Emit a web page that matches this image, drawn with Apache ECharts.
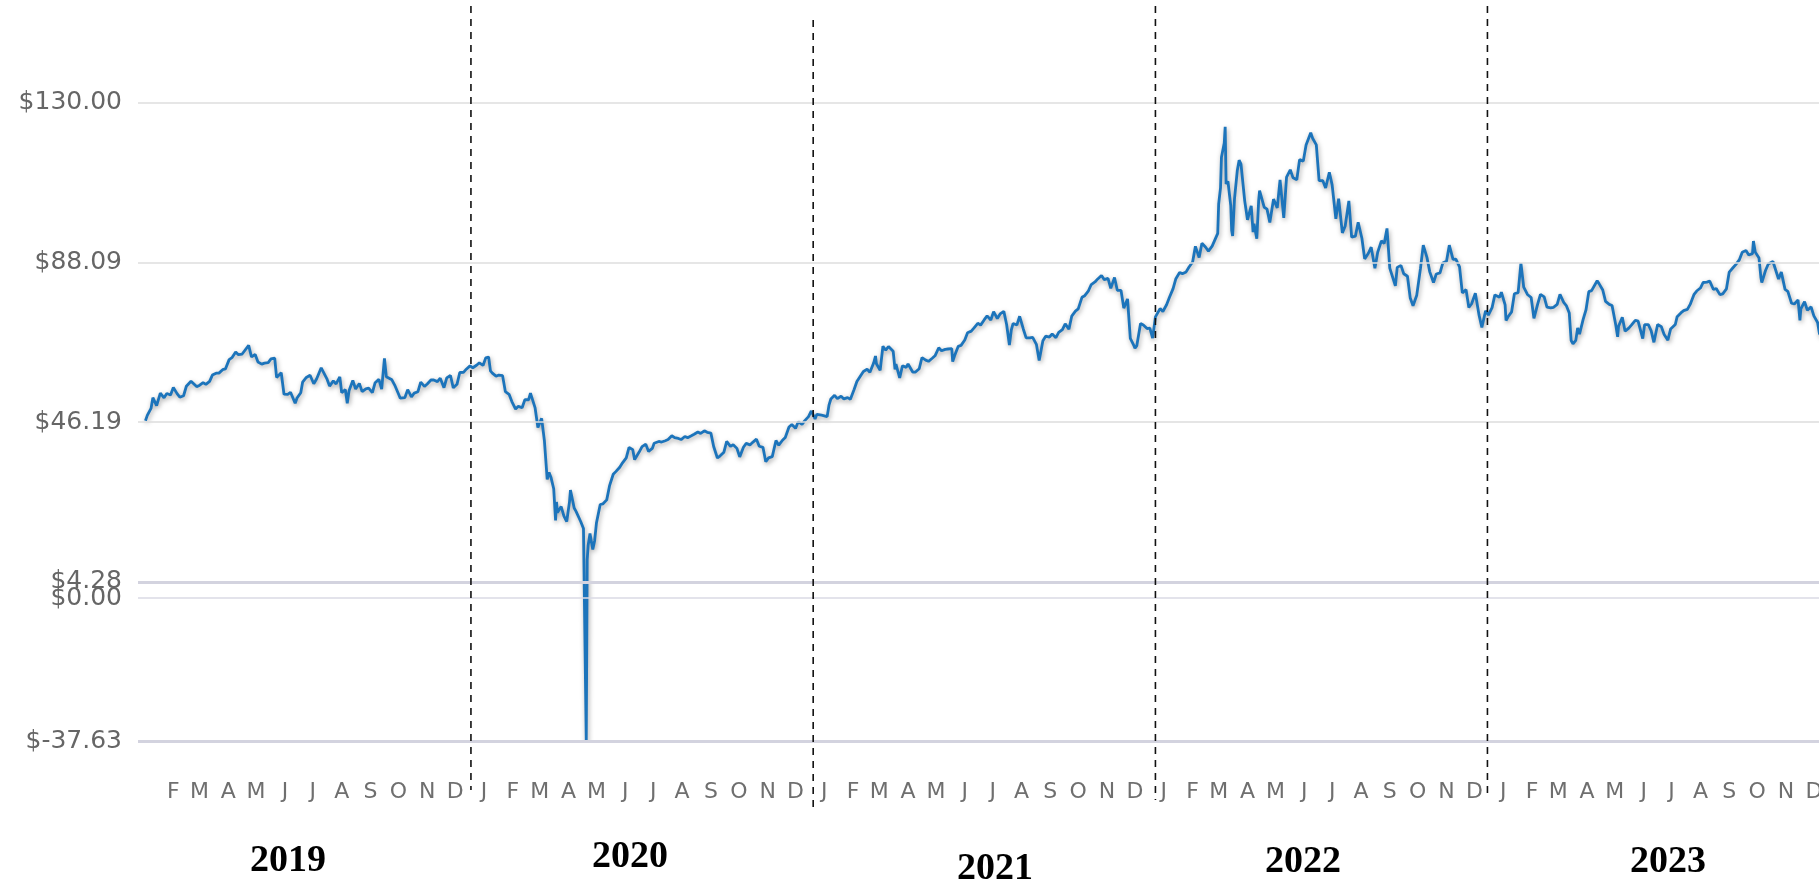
<!DOCTYPE html>
<html>
<head>
<meta charset="utf-8">
<script src="https://cdn.jsdelivr.net/npm/echarts@6/dist/echarts.min.js"></script>
<style>
html,body{margin:0;padding:0;background:#ffffff;}
#chart{width:1819px;height:884px;}
</style>
</head>
<body>
<div id="chart"></div>
<script>
// WTI crude oil daily price (USD/bbl): [MM-DD, price]
const wti2019 = [
['01-02',46.54],['01-04',47.96],['01-08',49.78],['01-10',52.59],['01-14',50.51],['01-18',53.80],['01-22',52.57],['01-25',53.69],['01-29',53.31],
['02-01',55.26],['02-05',53.66],['02-08',52.72],['02-12',53.10],['02-15',55.59],['02-20',56.92],['02-22',57.26],['02-26',55.50],
['03-01',55.80],['03-05',56.56],['03-08',56.07],['03-12',56.87],['03-15',58.52],['03-19',59.03],['03-22',59.04],['03-26',59.94],['03-29',60.14],
['04-02',62.58],['04-05',63.08],['04-09',64.61],['04-12',63.89],['04-16',64.05],['04-18',64.00],['04-23',66.30],['04-26',63.30],['04-30',63.91],
['05-03',61.94],['05-07',61.40],['05-10',61.66],['05-14',61.78],['05-17',62.76],['05-21',62.99],['05-23',57.91],['05-28',59.14],['05-31',53.50],
['06-04',53.48],['06-07',54.00],['06-12',51.14],['06-14',52.51],['06-18',53.90],['06-20',56.65],['06-24',57.90],['06-28',58.47],
['07-02',56.25],['07-05',57.51],['07-10',60.43],['07-12',60.21],['07-16',57.62],['07-19',55.63],['07-23',57.00],['07-26',56.20],['07-30',58.05],
['08-01',53.95],['08-05',54.69],['08-07',51.09],['08-09',54.50],['08-13',57.10],['08-16',54.87],['08-20',56.34],['08-23',54.17],['08-27',54.93],['08-30',55.10],
['09-03',53.94],['09-06',56.52],['09-10',57.40],['09-13',54.85],['09-16',62.90],['09-18',58.11],['09-20',58.09],['09-24',57.29],['09-27',55.91],
['10-01',53.62],['10-03',52.45],['10-08',52.63],['10-11',54.70],['10-15',52.81],['10-18',53.78],['10-22',54.16],['10-25',56.66],['10-29',55.54],
['11-01',56.20],['11-05',57.23],['11-08',57.24],['11-12',56.80],['11-15',57.72],['11-19',55.21],['11-22',57.77],['11-26',58.41],['11-29',55.17],
['12-03',56.10],['12-06',59.20],['12-10',59.24],['12-13',60.07],['12-17',60.94],['12-20',60.44],['12-24',61.11],['12-27',61.72],['12-31',61.06]
];
const wti2020 = [
['01-03',63.05],['01-06',63.27],['01-08',59.61],['01-10',59.04],['01-14',58.23],['01-17',58.54],['01-21',58.38],['01-24',54.19],['01-28',53.48],['01-31',51.56],
['02-04',49.61],['02-07',50.32],['02-11',49.94],['02-14',52.05],['02-18',52.05],['02-20',53.78],['02-25',49.90],['02-28',44.76],
['03-03',47.18],['03-06',41.28],['03-09',31.13],['03-11',32.98],['03-13',31.73],['03-16',28.70],['03-18',20.37],['03-19',25.22],['03-20',22.43],['03-24',24.01],['03-27',21.51],['03-30',20.09],
['04-02',25.32],['04-03',28.34],['04-07',23.63],['04-09',22.76],['04-14',20.11],['04-17',18.27],['04-20',-37.63],['04-21',10.01],['04-22',13.78],['04-24',16.94],['04-27',12.78],['04-29',15.06],
['05-01',19.78],['05-05',24.56],['05-08',24.74],['05-12',25.78],['05-15',29.43],['05-19',32.50],['05-22',33.25],['05-26',34.35],['05-29',35.49],
['06-02',36.81],['06-05',39.55],['06-09',38.94],['06-11',36.34],['06-16',38.38],['06-19',39.75],['06-23',40.37],['06-26',38.49],['06-30',39.27],
['07-02',40.65],['07-07',41.10],['07-10',40.95],['07-14',41.30],['07-17',41.60],['07-21',42.60],['07-24',42.10],['07-28',41.90],['07-31',41.60],
['08-04',42.40],['08-07',42.10],['08-11',42.60],['08-14',43.00],['08-18',43.60],['08-21',43.20],['08-25',43.90],['08-28',43.50],
['09-01',43.30],['09-04',39.77],['09-08',36.76],['09-11',37.33],['09-15',38.28],['09-18',41.11],['09-22',39.80],['09-25',40.25],['09-29',39.29],
['10-02',37.05],['10-06',39.57],['10-09',40.60],['10-13',40.20],['10-16',40.88],['10-20',41.70],['10-23',39.85],['10-27',39.57],['10-30',35.79],
['11-02',36.81],['11-06',37.14],['11-10',41.36],['11-13',40.13],['11-17',41.43],['11-20',42.15],['11-24',44.91],['11-27',45.53],
['12-01',44.55],['12-04',46.26],['12-08',45.60],['12-11',46.57],['12-15',47.62],['12-18',49.10],['12-22',47.02],['12-24',48.23],['12-29',48.00],['12-31',48.52]
];
const wti2021 = [
['01-04',47.62],['01-06',50.63],['01-08',52.24],['01-12',53.21],['01-15',52.36],['01-19',52.98],['01-22',52.27],['01-26',52.61],['01-29',52.20],
['02-02',54.76],['02-05',56.85],['02-09',58.36],['02-12',59.47],['02-16',60.05],['02-19',59.24],['02-23',61.67],['02-25',63.53],['02-26',61.50],
['03-02',59.75],['03-05',66.09],['03-08',65.05],['03-11',66.02],['03-12',65.61],['03-16',64.80],['03-18',60.00],['03-19',61.42],['03-23',57.76],['03-26',60.97],['03-30',60.55],
['04-01',61.45],['04-06',59.33],['04-09',59.32],['04-13',60.18],['04-16',63.13],['04-20',62.44],['04-23',62.14],['04-27',62.94],['04-30',63.58],
['05-04',65.69],['05-07',64.90],['05-11',65.28],['05-14',65.37],['05-18',65.49],['05-19',62.05],['05-21',63.58],['05-25',66.07],['05-28',66.32],
['06-01',67.72],['06-04',69.62],['06-08',70.05],['06-11',70.91],['06-15',72.12],['06-18',71.64],['06-22',73.06],['06-25',74.05],['06-29',72.98],
['07-02',75.16],['07-06',73.37],['07-09',74.56],['07-13',75.25],['07-16',71.81],['07-19',66.42],['07-21',70.30],['07-23',72.07],['07-27',71.65],['07-30',73.95],
['08-03',70.56],['08-06',68.28],['08-10',68.29],['08-13',68.44],['08-17',66.59],['08-20',62.32],['08-24',67.54],['08-27',68.74],['08-31',68.50],
['09-03',69.29],['09-07',68.35],['09-10',69.72],['09-14',70.46],['09-17',71.97],['09-21',70.56],['09-24',73.98],['09-28',75.29],
['10-01',75.88],['10-05',78.93],['10-08',79.35],['10-12',80.64],['10-15',82.28],['10-19',82.96],['10-22',83.76],['10-26',84.65],['10-29',83.57],
['11-02',83.91],['11-05',81.27],['11-09',84.15],['11-12',80.79],['11-16',80.76],['11-19',76.10],['11-23',78.50],['11-26',68.15],['11-30',66.18],
['12-01',65.57],['12-03',66.26],['12-07',72.05],['12-10',71.67],['12-14',70.73],['12-17',70.86],['12-20',68.23],['12-23',73.79],['12-28',75.98],['12-31',75.21]
];
const wti2022 = [
['01-04',76.99],['01-07',78.90],['01-11',81.22],['01-14',83.82],['01-18',85.43],['01-21',85.14],['01-25',85.60],['01-28',86.82],
['02-01',88.20],['02-04',92.31],['02-08',89.36],['02-11',93.10],['02-15',92.07],['02-18',91.07],['02-22',92.35],['02-24',92.81],['02-28',95.72],
['03-01',103.41],['03-03',107.67],['03-04',115.68],['03-07',119.40],['03-08',123.70],['03-09',108.70],['03-11',109.33],['03-14',103.01],['03-15',96.44],['03-16',95.04],['03-18',104.70],['03-21',112.12],['03-23',114.93],['03-25',113.90],['03-29',104.24],
['04-01',99.27],['04-05',102.96],['04-07',96.03],['04-08',98.26],['04-11',94.29],['04-13',104.25],['04-14',106.95],['04-19',102.56],['04-22',102.07],['04-25',98.54],['04-29',104.69],
['05-03',102.41],['05-06',109.77],['05-10',99.76],['05-13',110.49],['05-17',112.40],['05-20',110.28],['05-24',109.77],['05-27',115.07],['05-31',114.67],
['06-03',118.87],['06-08',122.11],['06-10',120.67],['06-14',118.93],['06-17',109.56],['06-21',109.52],['06-24',107.62],['06-28',111.76],
['07-01',108.43],['07-05',99.50],['07-08',104.79],['07-12',95.84],['07-14',95.78],['07-15',97.59],['07-19',104.22],['07-22',94.70],['07-26',94.98],['07-29',98.62],
['08-02',94.42],['08-05',89.01],['08-09',90.50],['08-12',92.09],['08-16',86.53],['08-19',90.77],['08-23',93.74],['08-26',93.06],['08-29',97.01],
['09-01',86.61],['09-02',86.87],['09-07',81.94],['09-09',86.79],['09-13',87.31],['09-16',85.11],['09-20',84.45],['09-23',78.74],['09-26',76.71],['09-30',79.49],
['10-04',86.52],['10-07',92.64],['10-11',89.35],['10-14',85.61],['10-18',82.82],['10-21',85.05],['10-25',85.32],['10-28',87.90],
['11-01',88.37],['11-04',92.61],['11-08',88.91],['11-11',88.96],['11-15',86.92],['11-18',80.08],['11-22',80.95],['11-25',76.28],['11-28',77.24],
['12-02',79.98],['12-06',74.25],['12-09',71.02],['12-13',75.39],['12-16',74.29],['12-20',76.23],['12-23',79.56],['12-28',78.96],['12-30',80.26]
];
const wti2023 = [
['01-03',76.93],['01-04',72.84],['01-06',73.77],['01-10',75.12],['01-13',79.86],['01-17',80.18],['01-19',80.33],['01-20',87.90],['01-23',81.62],['01-27',79.68],['01-31',78.87],
['02-03',73.39],['02-07',77.14],['02-10',79.72],['02-14',79.06],['02-17',76.34],['02-21',76.16],['02-24',76.32],['02-28',77.05],
['03-03',79.68],['03-07',77.58],['03-10',76.68],['03-13',74.80],['03-15',67.61],['03-17',66.74],['03-20',67.64],['03-22',70.90],['03-24',69.26],['03-28',73.20],['03-31',75.67],
['04-03',80.42],['04-06',80.70],['04-12',83.26],['04-14',82.52],['04-18',80.86],['04-21',77.87],['04-25',77.07],['04-28',76.78],
['05-02',71.66],['05-04',68.56],['05-05',71.34],['05-09',73.71],['05-12',70.04],['05-16',70.86],['05-19',71.69],['05-23',72.91],['05-26',72.67],['05-31',68.09],
['06-02',71.74],['06-06',71.74],['06-09',70.17],['06-12',67.12],['06-16',71.78],['06-20',71.19],['06-23',69.16],['06-27',67.70],['06-30',70.64],
['07-05',71.79],['07-07',73.86],['07-11',74.83],['07-14',75.42],['07-18',75.75],['07-21',77.07],['07-25',79.63],['07-28',80.58],
['08-01',81.37],['08-04',82.82],['08-08',82.92],['08-11',83.19],['08-15',80.99],['08-18',81.25],['08-22',79.64],['08-25',79.83],['08-29',81.16],
['09-01',85.55],['09-05',86.69],['09-08',87.51],['09-12',88.84],['09-15',90.77],['09-19',91.20],['09-22',90.03],['09-26',90.39],['09-27',93.68],['09-29',90.79],
['10-03',89.23],['10-05',84.22],['10-06',82.79],['10-10',85.97],['10-13',87.69],['10-18',88.32],['10-20',88.75],['10-24',83.74],['10-27',85.54],['10-31',81.02],
['11-03',80.51],['11-07',77.37],['11-10',77.17],['11-14',78.26],['11-16',72.90],['11-17',75.89],['11-21',77.77],['11-24',75.54],['11-28',76.41],
['12-01',74.07],['12-05',72.32],['12-07',69.34],['12-12',68.61],['12-15',71.43],['12-19',73.94],['12-22',73.56],['12-27',74.11],['12-29',71.65]
];

// Axis ticks and labels
const yTickValues = [-37.63, 0, 4.28, 46.19, 88.09, 130];
const monthLetters = ['J','F','M','A','M','J','J','A','S','O','N','D'];
const yearNames = ['2019','2020','2021','2022','2023'];
const yearDividerDates = ['2019-12-18','2020-12-20','2021-12-23','2022-12-15'];

// ---- layout / style (kept apart from data) ----
const dividerTops = [6, 20, 6, 6];
const dividerBottoms = [790, 812, 800, 798];
const yearLabelPos = [[288, 861], [630, 857], [995, 869], [1303, 862], [1668, 862]];
const gridStyles = {
  '130': {color: '#dedede', width: 1.5},
  '88.09': {color: '#dedede', width: 1.5},
  '46.19': {color: '#dcdcdc', width: 1.5},
  '4.28': {color: '#d3d3df', width: 3},
  '0': {color: '#dadae4', width: 1.5},
  '-37.63': {color: '#d3d3df', width: 3}
};

function ts(str) {
  const p = str.split('-');
  return new Date(+p[0], +p[1] - 1, +p[2]).getTime();
}
function build(year, pairs) { return pairs.map(p => [ts(year + '-' + p[0]), p[1]]); }
const seriesData = [].concat(
  build(2019, wti2019), build(2020, wti2020), build(2021, wti2021),
  build(2022, wti2022), build(2023, wti2023)
);

const monthTicks = [];
for (let y = 2019; y <= 2023; y++) {
  for (let m = 0; m < 12; m++) {
    if (y === 2019 && m === 0) continue;
    monthTicks.push(new Date(y, m, 1).getTime());
  }
}

const chart = echarts.init(document.getElementById('chart'), null, {renderer: 'canvas'});

const option = {
  animation: false,
  backgroundColor: '#ffffff',
  grid: {left: 138, top: 102.7, right: -23.7, bottom: 142.5, containLabel: false, outerBoundsMode: 'none'},
  xAxis: {
    type: 'value',
    min: ts('2018-12-25'),
    max: ts('2024-01-01'),
    axisLine: {show: false},
    axisTick: {show: false},
    splitLine: {show: false},
    axisLabel: {
      customValues: monthTicks,
      formatter: function (v) { return monthLetters[new Date(v).getMonth()]; },
      color: '#6f6f6f',
      fontSize: 22,
      fontFamily: "'DejaVu Sans', Verdana, sans-serif",
      margin: 40,
      hideOverlap: false
    }
  },
  yAxis: {
    type: 'value',
    min: -37.63,
    max: 130,
    axisLine: {show: false},
    axisTick: {show: false},
    splitLine: {show: false},
    axisLabel: {
      customValues: yTickValues,
      formatter: function (v) { return '$' + Number(v).toFixed(2); },
      color: '#666666',
      fontSize: 25,
      fontFamily: "'DejaVu Sans', Verdana, sans-serif",
      margin: 16
    }
  },
  series: [
    {
      name: 'grid',
      type: 'line',
      data: seriesData,
      z: 1,
      silent: true,
      showSymbol: false,
      symbol: 'none',
      lineStyle: {opacity: 0},
      markLine: {
        silent: true,
        symbol: 'none',
        animation: false,
        label: {show: false},
        data: yTickValues.map(v => ({
          yAxis: v,
          lineStyle: {type: 'solid', color: gridStyles[String(v)].color, width: gridStyles[String(v)].width}
        }))
      }
    },
    {
      name: 'WTI',
      type: 'line',
      data: seriesData,
      z: 3,
      showSymbol: false,
      symbol: 'none',
      lineStyle: {
        color: '#1c74bb',
        width: 2.8,
        shadowColor: 'rgba(0,0,0,0.35)',
        shadowBlur: 5,
        shadowOffsetX: 1,
        shadowOffsetY: 2
      }
    }
  ]
};
chart.setOption(option);

const graphics = [];
yearDividerDates.forEach(function (d, i) {
  const x = chart.convertToPixel({xAxisIndex: 0}, ts(d));
  graphics.push({
    type: 'line',
    z: 10,
    silent: true,
    shape: {x1: x, y1: dividerTops[i], x2: x, y2: dividerBottoms[i]},
    style: {stroke: '#111111', lineWidth: 1.6, lineDash: [7, 6]}
  });
});
yearNames.forEach(function (t, i) {
  graphics.push({
    type: 'text',
    z: 10,
    silent: true,
    x: yearLabelPos[i][0],
    y: yearLabelPos[i][1],
    style: {
      text: t,
      fill: '#000000',
      font: "bold 38px 'Liberation Serif', 'Times New Roman', serif",
      align: 'center',
      verticalAlign: 'middle'
    }
  });
});
chart.setOption({graphic: graphics});
</script>
</body>
</html>
